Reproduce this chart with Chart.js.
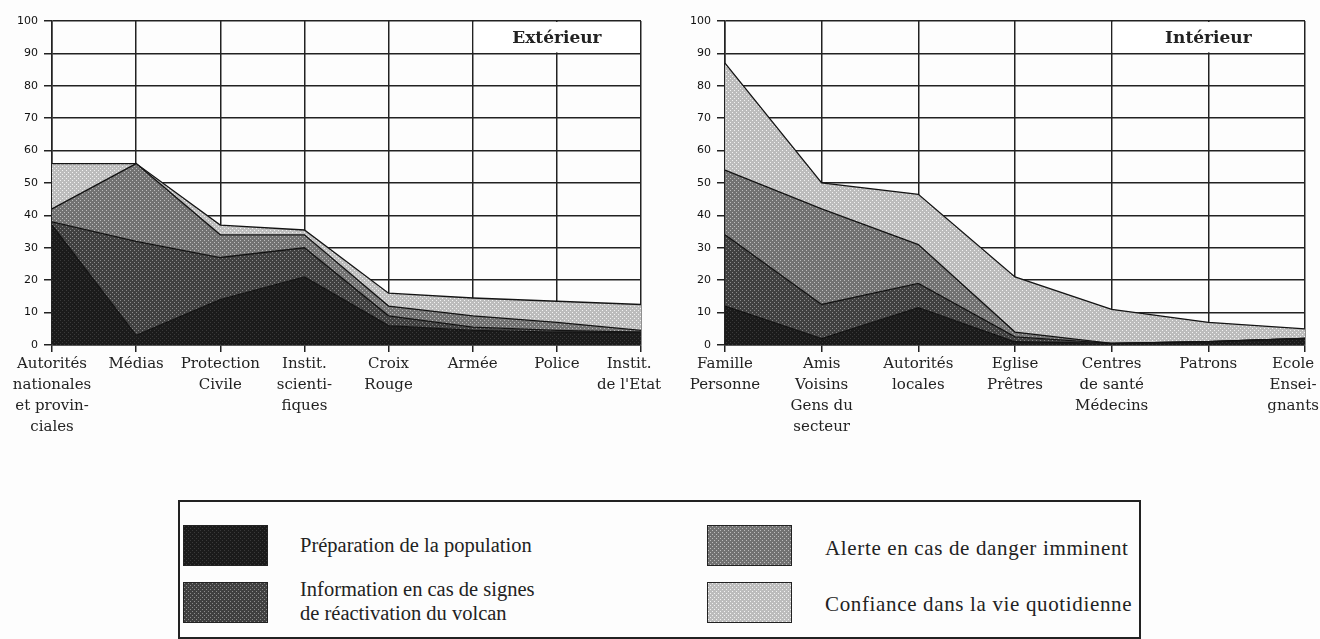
<!DOCTYPE html>
<html>
<head>
<meta charset="utf-8">
<script src="https://cdn.jsdelivr.net/npm/chart.js@4.4.0/dist/chart.umd.min.js"></script>
<style>
  body { margin: 0; width: 1320px; height: 639px; overflow: hidden; position: relative; background: #fdfdfd; font-family: "Liberation Serif", serif; color: #222; }
  #extChart { position: absolute; left: 0; top: 0; }
  #intChart { position: absolute; left: 660px; top: 0; }
  .legend-box { position: absolute; left: 178px; top: 500px; width: 963px; height: 139px; border: 2px solid #222; box-sizing: border-box; }
  .swatch { position: absolute; width: 85px; height: 41px; border: 1px solid #222; box-sizing: border-box; }
  .legend-text { position: absolute; font-size: 20.5px; line-height: 24px; white-space: nowrap; }
  .legend-text.wide { font-size: 21px; letter-spacing: 0.65px; }
</style>
</head>
<body>
<canvas id="extChart" width="680" height="460"></canvas>
<canvas id="intChart" width="660" height="460"></canvas>

<div class="legend-box"></div>
<div class="swatch" id="sw0" style="left:183px;top:525px"></div>
<div class="legend-text" style="left:300px;top:533px">Préparation de la population</div>
<div class="swatch" id="sw1" style="left:183px;top:582px"></div>
<div class="legend-text" style="left:300px;top:577px">Information en cas de signes<br>de réactivation du volcan</div>
<div class="swatch" id="sw2" style="left:707px;top:525px"></div>
<div class="legend-text wide" style="left:825px;top:536px">Alerte en cas de danger imminent</div>
<div class="swatch" id="sw3" style="left:707px;top:582px"></div>
<div class="legend-text wide" style="left:825px;top:592px">Confiance dans la vie quotidienne</div>

<script>
// Extérieur
const extLabels = [
  ['Autorités', 'nationales', 'et provin-', 'ciales'], 'Médias', ['Protection', 'Civile'],
  ['Instit.', 'scienti-', 'fiques'], ['Croix', 'Rouge'], 'Armée', 'Police', ['Instit.', "de l'Etat"]
];
const extPreparation = [37, 3, 14, 21, 6, 4.5, 4, 4];
const extInformation = [1, 29, 13, 9, 3, 1, 0.5, 0];
const extAlerte = [4, 24, 7, 4, 3, 3.5, 2.5, 0.5];
const extConfiance = [14, 0, 3, 1.5, 4, 5.5, 6.5, 8];

// Intérieur
const intLabels = [
  ['Famille', 'Personne'], ['Amis', 'Voisins', 'Gens du', 'secteur'], ['Autorités', 'locales'],
  ['Eglise', 'Prêtres'], ['Centres', 'de santé', 'Médecins'], 'Patrons', ['Ecole', 'Ensei-', 'gnants']
];
const intPreparation = [12, 2, 11.5, 1, 0.5, 1, 2];
const intInformation = [22, 10.5, 7.5, 1.5, 0, 0, 0];
const intAlerte = [20, 29.5, 12, 1.5, 0, 0, 0];
const intConfiance = [33, 8, 15.5, 17, 10.5, 6, 3];

const yTicks = [0, 10, 20, 30, 40, 50, 60, 70, 80, 90, 100];
const seriesNames = ['Préparation de la population', 'Information en cas de signes de réactivation du volcan',
  'Alerte en cas de danger imminent', 'Confiance dans la vie quotidienne'];

// stipple textures, like the printed greys
const tones = [['#1b1b1b', '#3a3a3a'], ['#404040', '#8c8c8c'], ['#727272', '#bdbdbd'], ['#bcbcbc', '#f2f2f2']];
function makeTile(base, dot) {
  const tile = document.createElement('canvas');
  tile.width = 4; tile.height = 4;
  const c = tile.getContext('2d');
  c.fillStyle = base; c.fillRect(0, 0, 4, 4);
  c.fillStyle = dot; c.fillRect(0, 0, 1, 1); c.fillRect(2, 2, 1, 1);
  return tile;
}
const tiles = tones.map(([b, d]) => makeTile(b, d));
tiles.forEach((tile, i) => { document.getElementById('sw' + i).style.background = 'url(' + tile.toDataURL() + ')'; });
const patterns = tiles.map((tile) => document.createElement('canvas').getContext('2d').createPattern(tile, 'repeat'));

const titleBox = {
  id: 'titleBox',
  afterDatasetsDraw(chart, args, opts) {
    const { ctx, chartArea, scales: { x, y } } = chart;
    const left = x.getPixelForValue(opts.fromIndex);
    const top = y.getPixelForValue(100), bottom = y.getPixelForValue(90);
    ctx.save();
    ctx.fillStyle = '#fff';
    ctx.fillRect(left + 1, top + 1, chartArea.right - left - 2, bottom - top - 2);
    ctx.fillStyle = '#222';
    ctx.font = 'bold 17px "DejaVu Serif"';
    ctx.textAlign = 'center';
    ctx.textBaseline = 'middle';
    ctx.fillText(opts.text, (left + chartArea.right) / 2, (top + bottom) / 2 + 1);
    ctx.restore();
  }
};

const nbsp = '\u00a0'.repeat(5);

function buildChart(id, labels, series, title, fromIndex, padding) {
  return new Chart(document.getElementById(id), {
    type: 'line',
    data: {
      labels: labels,
      datasets: series.map((values, i) => ({
        label: seriesNames[i], data: values,
        fill: i === 0 ? 'origin' : '-1',
        backgroundColor: patterns[i], borderColor: '#141414', borderWidth: 1.3,
        pointRadius: 0, tension: 0,
      })),
    },
    options: {
      responsive: false, animation: false,
      layout: { padding: padding },
      plugins: { legend: { display: false }, tooltip: { enabled: false }, titleBox: { text: title, fromIndex: fromIndex } },
      scales: {
        x: {
          grid: { color: '#222', lineWidth: 1.5, tickLength: 7, offset: false },
          border: { color: '#222', width: 1.5 },
          ticks: {
            autoSkip: false, maxRotation: 0, padding: 2, color: '#222',
            font: { family: '"DejaVu Serif"', size: 15, lineHeight: 1.4 },
            callback: function(value, index, ticks) {
              const lbl = this.getLabelForValue(value);
              if (index !== ticks.length - 1) return lbl;
              return Array.isArray(lbl) ? lbl.map((l) => l + nbsp) : lbl + nbsp;
            },
          },
          afterFit: (scale) => { scale.height = 115; scale.paddingLeft = 0; scale.paddingRight = 0; },
        },
        y: {
          stacked: true, min: 0, max: 100,
          afterBuildTicks: (scale) => { scale.ticks = yTicks.map((v) => ({ value: v })); },
          grid: { color: '#222', lineWidth: 1.5, tickLength: 8 },
          border: { color: '#222', width: 1.5 },
          ticks: { padding: 6, color: '#111', font: { family: '"DejaVu Sans"', size: 11 } },
          afterFit: (scale) => { scale.width = 52; },
        },
      },
    },
    plugins: [titleBox],
  });
}

buildChart('extChart', extLabels, [extPreparation, extInformation, extAlerte, extConfiance], 'Extérieur', 5,
  { left: 0, right: 39, top: 21, bottom: 0 });
buildChart('intChart', intLabels, [intPreparation, intInformation, intAlerte, intConfiance], 'Intérieur', 4,
  { left: 13, right: 15, top: 21, bottom: 0 });
</script>
</body>
</html>
